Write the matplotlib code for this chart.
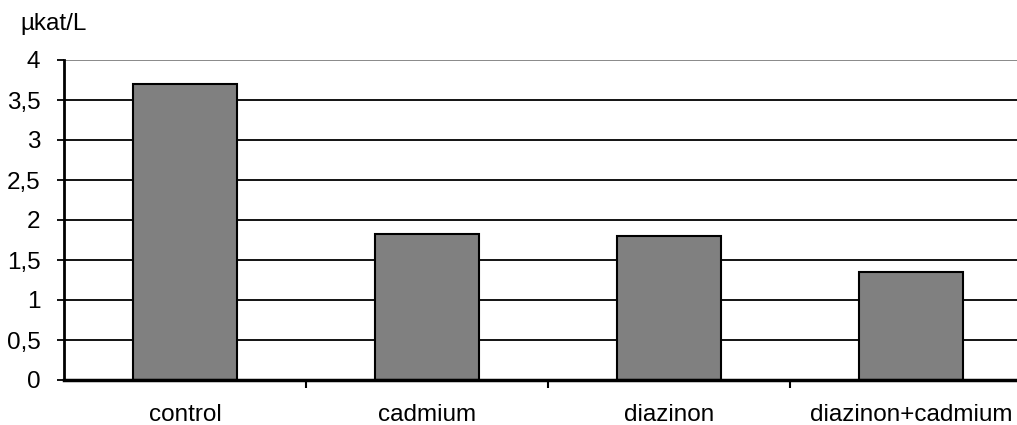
import numpy as np
import matplotlib.pyplot as plt

plt.rcParams['font.family'] = ['Liberation Sans', 'DejaVu Sans']

groups = ['control', 'cadmium', 'diazinon', 'diazinon+cadmium']
values = [3.70, 1.83, 1.80, 1.35]
yticks = [0, 0.5, 1, 1.5, 2, 2.5, 3, 3.5, 4]
ylabels = ['0', '0,5', '1', '1,5', '2', '2,5', '3', '3,5', '4']

fig = plt.figure(figsize=(10.17, 4.25), dpi=100)
ax = fig.add_axes([64/1017, 45/425, 968/1017, 320/425])

x = np.arange(len(groups))
for yv in yticks[1:]:
    ax.axhline(yv, color='#808080' if yv == 4 else 'black', lw=1.3, zorder=1)
ax.bar(x, values, width=0.43, color='#808080', edgecolor='black', lw=1.5, zorder=3)

ax.set_xlim(-0.5, len(groups) - 0.5)
ax.set_ylim(0, 4)
ax.set_yticks(yticks)
ax.set_yticklabels(ylabels, fontsize=17.5)
ax.set_xticks(x)
ax.set_xticklabels(groups, fontsize=17.5)
ax.tick_params(axis='x', length=0, pad=17)
ax.set_xticks(np.arange(len(groups)) + 0.5, minor=True)
ax.tick_params(axis='x', which='minor', length=6, width=1.5, direction='out')
ax.tick_params(axis='y', length=5, width=1.3, direction='out', pad=12)

for s in ['top', 'right']:
    ax.spines[s].set_visible(False)
ax.spines['left'].set_linewidth(2)
ax.spines['bottom'].set_linewidth(2.5)
ax.spines['bottom'].set_zorder(4)

fig.text(20/1017, 1 - 24/425, 'µkat/L', fontsize=17.5, va='center', ha='left')

fig.savefig('out.png', dpi=100)
